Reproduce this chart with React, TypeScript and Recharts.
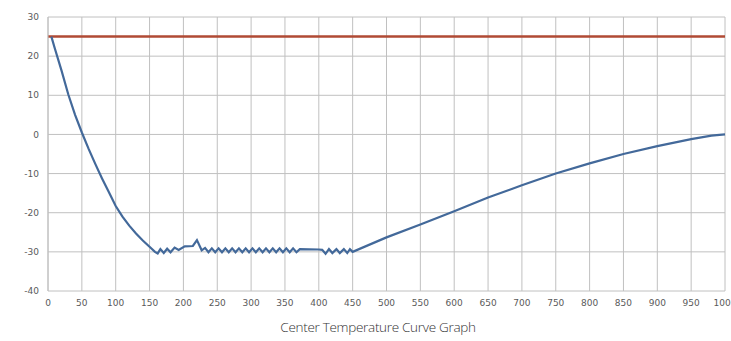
import { LineChart, Line, XAxis, YAxis, CartesianGrid } from 'recharts';

// sample times and measured centre temperature
const timeS = [
  5, 10, 20, 30, 40, 50, 60, 70, 80, 90, 100, 110, 120, 130, 140, 150, 158,
  162, 166, 171, 176, 181, 187, 193, 202, 214, 220, 227, 232, 237,
  242, 247, 252, 257, 262, 267, 272, 277, 282, 287, 292, 297, 302, 307, 312, 317,
  322, 327, 332, 337, 342, 347, 352, 357, 362, 367,
  372, 400, 405, 410, 415, 420, 426, 431, 437, 442, 446, 450,
  500, 550, 600, 650, 700, 750, 800, 850, 900, 950, 980, 1000,
];
const centerTemp = [
  25, 22.0, 16.3, 10.2, 5.0, 0.5, -3.7, -7.6, -11.3, -14.8, -18.3, -21.0, -23.3, -25.3, -27.1, -28.7, -30.0,
  -30.4, -29.3, -30.3, -29.2, -30.1, -28.9, -29.5, -28.6, -28.5, -27.0, -29.6, -29.0, -30.1,
  -29.1, -30.1, -29.1, -30.1, -29.1, -30.1, -29.1, -30.1, -29.1, -30.1, -29.1, -30.1, -29.1, -30.1, -29.1, -30.1,
  -29.1, -30.1, -29.1, -30.1, -29.1, -30.1, -29.1, -30.1, -29.1, -30.1,
  -29.3, -29.4, -29.5, -30.5, -29.3, -30.3, -29.3, -30.3, -29.3, -30.3, -29.3, -30.0,
  -26.3, -23.0, -19.6, -16.1, -13.0, -10.0, -7.4, -5.0, -3.0, -1.2, -0.3, 0,
];

// reference set point line
const setTime = [0, 1000];
const setTemp = [25, 25];

const xTicks = [0, 50, 100, 150, 200, 250, 300, 350, 400, 450, 500, 550, 600, 650, 700, 750, 800, 850, 900, 950, 1000];
const xMinorTicks = [
  10, 20, 30, 40, 60, 70, 80, 90, 110, 120, 130, 140, 160, 170, 180, 190, 210, 220, 230, 240,
  260, 270, 280, 290, 310, 320, 330, 340, 360, 370, 380, 390, 410, 420, 430, 440, 460, 470, 480, 490,
  510, 520, 530, 540, 560, 570, 580, 590, 610, 620, 630, 640, 660, 670, 680, 690, 710, 720, 730, 740,
  760, 770, 780, 790, 810, 820, 830, 840, 860, 870, 880, 890, 910, 920, 930, 940, 960, 970, 980, 990,
];
const yTicks = [-40, -30, -20, -10, 0, 10, 20, 30];

const title = 'Center Temperature Curve Graph';

const curveData = timeS.map((t, i) => ({ t, temp: centerTemp[i] }));
const setData = setTime.map((t, i) => ({ t, temp: setTemp[i] }));

const tickStyle = { fontSize: 9, fill: '#5a5a5a', fontFamily: 'DejaVu Sans' };

export default function App() {
  return (
    <div style={{ position: 'absolute', left: 0, top: 0, width: 731, height: 341, overflow: 'hidden', background: '#fff' }}>
      <LineChart width={760} height={341} margin={{ top: 17, right: 35, left: 0, bottom: 21 }}>
        <CartesianGrid stroke="#c0c0c0" strokeWidth={1} />
        {/* minor ticks pointing up into the plot */}
        <XAxis
          xAxisId="minor"
          dataKey="t"
          type="number"
          domain={[0, 1000]}
          ticks={xMinorTicks}
          interval={0}
          mirror
          tick={false}
          tickLine={{ stroke: '#a8a8a8' }}
          tickSize={4}
          axisLine={false}
          height={1}
        />
        <XAxis
          dataKey="t"
          type="number"
          domain={[0, 1000]}
          ticks={xTicks}
          interval={0}
          tick={tickStyle}
          tickLine={false}
          tickSize={0}
          tickMargin={9}
          axisLine={false}
          height={29}
        />
        <YAxis
          type="number"
          domain={[-40, 30]}
          ticks={yTicks}
          interval={0}
          tick={tickStyle}
          tickLine={false}
          tickSize={0}
          tickMargin={9}
          axisLine={{ stroke: '#c0c0c0' }}
          width={48}
        />
        <Line
          data={setData}
          dataKey="temp"
          type="linear"
          stroke="#b04a34"
          strokeWidth={2.5}
          dot={false}
          isAnimationActive={false}
        />
        <Line
          data={curveData}
          dataKey="temp"
          type="linear"
          stroke="#43699a"
          strokeWidth={2.2}
          dot={false}
          isAnimationActive={false}
        />
      </LineChart>
      <div
        style={{
          position: 'absolute',
          left: 0,
          width: 756,
          top: 318,
          textAlign: 'center',
          fontFamily: '"Open Sans", sans-serif',
          fontWeight: 300,
          fontSize: 13.5,
          letterSpacing: -0.3,
          color: '#333',
        }}
      >
        {title}
      </div>
    </div>
  );
}
